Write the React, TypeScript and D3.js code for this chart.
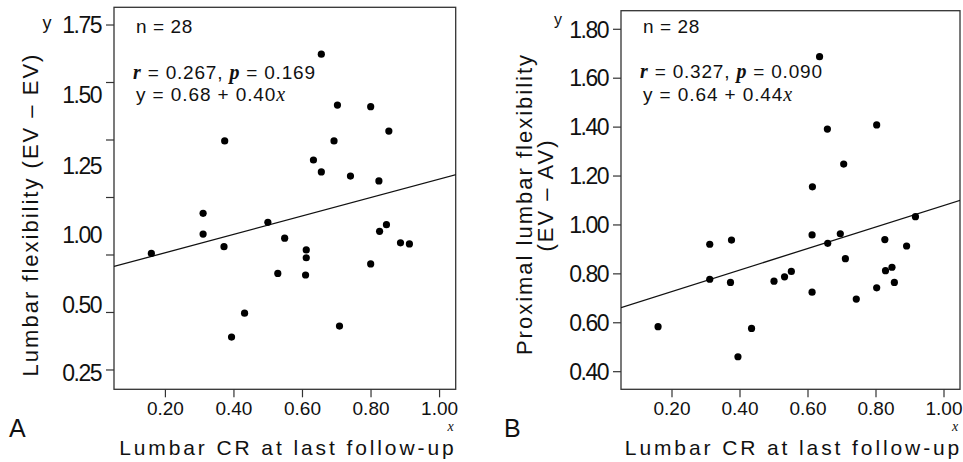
import React from 'react';
import * as d3 from 'd3';

// panel A: lumbar flexibility (EV - EV) vs lumbar CR
const panelAX = [0.655, 0.373, 0.702, 0.799, 0.852, 0.692, 0.632, 0.655, 0.740, 0.823,
  0.159, 0.310, 0.310, 0.371, 0.499, 0.548, 0.611, 0.611, 0.528, 0.609,
  0.431, 0.393, 0.708, 0.799, 0.825, 0.845, 0.886, 0.912];
const panelAY = [1.623, 1.246, 1.402, 1.395, 1.289, 1.246, 1.163, 1.111, 1.093, 1.072,
  0.757, 0.931, 0.841, 0.786, 0.892, 0.823, 0.772, 0.738, 0.670, 0.663,
  0.497, 0.393, 0.441, 0.711, 0.853, 0.882, 0.803, 0.798];

// panel B: proximal lumbar flexibility (EV - AV) vs lumbar CR
const panelBX = [0.634, 0.657, 0.802, 0.705, 0.613, 0.159, 0.311, 0.375, 0.311, 0.372,
  0.434, 0.394, 0.500, 0.531, 0.551, 0.612, 0.612, 0.658, 0.695, 0.710,
  0.742, 0.802, 0.826, 0.828, 0.847, 0.854, 0.890, 0.916];
const panelBY = [1.688, 1.392, 1.409, 1.249, 1.156, 0.584, 0.921, 0.938, 0.778, 0.765,
  0.577, 0.461, 0.770, 0.788, 0.810, 0.959, 0.725, 0.925, 0.964, 0.862,
  0.697, 0.743, 0.940, 0.813, 0.827, 0.765, 0.914, 1.034];

const xTicks = [0.2, 0.4, 0.6, 0.8, 1.0];
const xTickLabels = ['0.20', '0.40', '0.60', '0.80', '1.00'];

const panelAYTicks = [0.25, 0.5, 0.75, 1.0, 1.25, 1.5, 1.75];
const panelAYTickLabels = ['0.25', '0.50', '', '1.00', '1.25', '1.50', '1.75'];
const panelBYTicks = [0.4, 0.6, 0.8, 1.0, 1.2, 1.4, 1.6, 1.8];
const panelBYTickLabels = ['0.40', '0.60', '0.80', '1.00', '1.20', '1.40', '1.60', '1.80'];

// regression: intercept, slope
const panelAFit = [0.68, 0.40];
const panelBFit = [0.64, 0.44];

// the source figure's y labels in A sit off their ticks
const panelALabelShift = [2.5, -8, 0, 37, 25.5, 12, 0];

const SANS = '"Liberation Sans", Arial, Helvetica, sans-serif';
const SERIF = '"Liberation Serif", "Times New Roman", serif';

function Panel(props: any) {
  const { xs, ys, fit, box, yDomain, yTicks, yTickLabels, labelShift, stats, letter, yTitle } = props;
  const x = d3.scaleLinear().domain([0.05, 1.05]).range([box.left, box.right + 1]);
  const y = d3.scaleLinear().domain(yDomain).range([box.bottom, box.top]);
  const line = d3.line<number>()
    .x(d => x(d))
    .y(d => y(fit[0] + fit[1] * d));
  const clipId = 'clip' + letter;

  return (
    <g>
      <defs>
        <clipPath id={clipId}>
          <rect x={box.left} y={box.top} width={box.right - box.left} height={box.bottom - box.top} />
        </clipPath>
      </defs>
      <rect x={box.left} y={box.top} width={box.right - box.left} height={box.bottom - box.top}
        fill="none" stroke="#333" strokeWidth={1.3} />

      {yTicks.map((t: number, i: number) => (
        <g key={'yt' + i}>
          <line x1={box.left - 8} x2={box.left} y1={y(t)} y2={y(t)} stroke="#333" strokeWidth={1.2} />
          <text x={box.left - 13} y={y(t) + (labelShift ? labelShift[i] : 0)} dy="0.36em"
            textAnchor="end" fontFamily={SANS} fontSize={23} letterSpacing={-1.5} fill="#111">
            {yTickLabels[i]}
          </text>
        </g>
      ))}

      {xTicks.map((t, i) => (
        <g key={'xt' + i}>
          <line x1={x(t)} x2={x(t)} y1={box.bottom} y2={box.bottom + 8} stroke="#333" strokeWidth={1.2} />
          <text x={x(t)} y={415} textAnchor="middle" fontFamily={SANS} fontSize={19} fill="#111">
            {xTickLabels[i]}
          </text>
        </g>
      ))}

      <path d={line([0.05, 1.05]) || ''} fill="none" stroke="#111" strokeWidth={1.3} clipPath={`url(#${clipId})`} />

      {xs.map((v: number, i: number) => (
        <circle key={'p' + i} cx={x(v)} cy={y(ys[i])} r={3.6} fill="#000" />
      ))}

      <g fontFamily={SANS} fontSize={19} fill="#111">
        <text x={box.left + 22} y={33} letterSpacing={0.6}>n = 28</text>
        <text x={box.left + 19} y={stats.rY} letterSpacing={0.8}>
          <tspan fontFamily={SERIF} fontStyle="italic" fontWeight="bold" fontSize={20}>r</tspan>
          <tspan> = {stats.r},  </tspan>
          <tspan fontFamily={SERIF} fontStyle="italic" fontWeight="bold" fontSize={20}>p</tspan>
          <tspan> = {stats.p}</tspan>
        </text>
        <text x={box.left + 22} y={101} letterSpacing={0.9}>
          <tspan>y = {fit[0].toFixed(2)} + {fit[1].toFixed(2)}</tspan>
          <tspan fontFamily={SERIF} fontStyle="italic" fontSize={20}>x</tspan>
        </text>
      </g>

      <text x={props.yLetterX} y={props.yLetterY} textAnchor="middle" fontFamily={SANS}
        fontSize={props.yLetterSize} fill="#111">y</text>
      <text x={box.right - 5} y={431} textAnchor="middle" fontFamily={SERIF} fontStyle="italic"
        fontSize={14} fill="#111">x</text>

      <text x={(box.left + box.right) / 2 + 3} y={455} textAnchor="middle" fontFamily={SANS}
        fontSize={21} letterSpacing={2.9} fill="#111">Lumbar CR at last follow-up</text>

      <text x={props.letterX} y={437} fontFamily={SANS} fontSize={25} fill="#111">{letter}</text>

      {yTitle}
    </g>
  );
}

export default function App() {
  const boxA = { left: 114, top: 7.3, right: 455.7, bottom: 389.3 };
  const boxB = { left: 621, top: 10.7, right: 960, bottom: 389.3 };

  const titleA = (
    <text transform="translate(37.5,214.5) rotate(-90)" textAnchor="middle" fontFamily={SANS}
      fontSize={22} letterSpacing={2} fill="#111">Lumbar flexibility (EV – EV)</text>
  );
  const titleB = (
    <g fontFamily={SANS} fontSize={22} letterSpacing={2} fill="#111" textAnchor="middle">
      <text transform="translate(532,204) rotate(-90)">Proximal lumbar flexibility</text>
      <text transform="translate(553,195) rotate(-90)">(EV – AV)</text>
    </g>
  );

  return (
    <svg width={963} height={462} style={{ position: 'absolute', left: 0, top: 0, background: '#fff' }}>
      <rect width={963} height={462} fill="#fff" />
      <Panel xs={panelAX} ys={panelAY} fit={panelAFit} box={boxA} yDomain={[0.166, 1.827]}
        yTicks={panelAYTicks} yTickLabels={panelAYTickLabels} labelShift={panelALabelShift}
        stats={{ r: '0.267', p: '0.169', rY: 79 }} letter="A" letterX={9} yTitle={titleA}
        yLetterX={47} yLetterY={29} yLetterSize={18} />
      <Panel xs={panelBX} ys={panelBY} fit={panelBFit} box={boxB} yDomain={[0.328, 1.876]}
        yTicks={panelBYTicks} yTickLabels={panelBYTickLabels} labelShift={null}
        stats={{ r: '0.327', p: '0.090', rY: 78 }} letter="B" letterX={504} yTitle={titleB}
        yLetterX={558} yLetterY={25} yLetterSize={16} />
    </svg>
  );
}
